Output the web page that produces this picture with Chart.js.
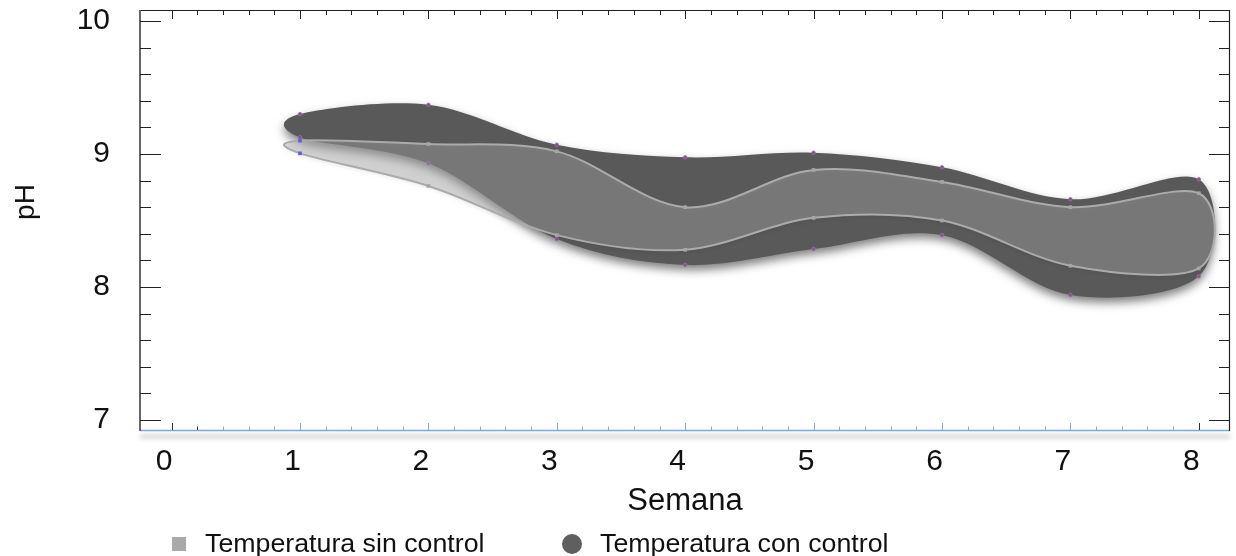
<!DOCTYPE html>
<html>
<head>
<meta charset="utf-8">
<title>pH por semana</title>
<script src="https://cdn.jsdelivr.net/npm/chart.js@4/dist/chart.umd.min.js"></script>
<style>
  html, body { margin: 0; padding: 0; background: #fff; }
  #wrap { position: relative; width: 1236px; height: 556px; font-family: "Liberation Sans", Arial, sans-serif; color: #111; }
  #wrap canvas { position: absolute; left: 0; top: 0; }
  #ytitle { position: absolute; width: 80px; height: 40px; left: -14.7px; top: 181.5px; line-height: 40px;
            font-size: 28px; text-align: center; transform: rotate(-90deg); white-space: nowrap; }
  .lg-mark { position: absolute; }
  .lg-text { position: absolute; font-size: 25px; line-height: 25px; white-space: nowrap;
             transform: scaleX(1.07); transform-origin: left center; }
</style>
</head>
<body>
<div id="wrap">
  <canvas id="chart" width="1236" height="556"></canvas>
  <div id="ytitle">pH</div>
  <div id="legend"></div>
</div>
<script>
// Semanas de muestreo
const semanas = [1, 2, 3, 4, 5, 6, 7, 8];

// Temperatura sin control: límites superior e inferior del pH
const sinControlMax = [9.10, 9.075, 9.02, 8.60, 8.88, 8.79, 8.60, 8.705];
const sinControlMin = [9.005, 8.76, 8.39, 8.28, 8.52, 8.50, 8.16, 8.14];

// Temperatura con control: límites superior e inferior del pH
const conControlMax = [9.30, 9.37, 9.07, 8.975, 9.01, 8.90, 8.66, 8.81];
const conControlMin = [9.125, 8.93, 8.36, 8.165, 8.285, 8.39, 7.94, 8.08];

const xTicks = [0, 1, 2, 3, 4, 5, 6, 7, 8];
const yTicks = [7, 8, 9, 10];
const seriesLabels = ['Temperatura sin control', 'Temperatura con control'];
const xTitle = 'Semana';

// Contorno cerrado de una banda: borde superior de izquierda a derecha,
// luego borde inferior de derecha a izquierda.
function outline(upper, lower) {
  const top = semanas.map((x, i) => ({ x, y: upper[i] }));
  const bottom = semanas.map((x, i) => ({ x, y: lower[i] })).reverse();
  return top.concat(bottom);
}

function setShadow(ctx, color, blur, dy) {
  ctx.shadowColor = color;
  ctx.shadowBlur = blur;
  ctx.shadowOffsetX = 0;
  ctx.shadowOffsetY = dy;
}
function clearShadow(ctx) { setShadow(ctx, 'rgba(0,0,0,0)', 0, 0); }

// Cierra cada línea sobre sí misma y la suaviza con una spline Catmull-Rom uniforme.
const closedBand = {
  id: 'closedBand',
  afterDatasetUpdate(chart, args) {
    const line = args.meta.dataset;
    if (!line) return;
    line._loop = true;
    line._fullLoop = true;
    line._segments = undefined;
    line._path = undefined;
    line._pointsUpdated = false;
  },
  beforeDatasetsDraw(chart) {
    chart.getSortedVisibleDatasetMetas().forEach(meta => {
      const line = meta.dataset;
      line.updateControlPoints(chart.chartArea, 'x');
      const pts = line.points, n = pts.length;
      for (let i = 0; i < n; i++) {
        const p = pts[i], a = pts[(i - 1 + n) % n], b = pts[(i + 1) % n];
        const dx = (b.x - a.x) / 6, dy = (b.y - a.y) / 6;
        p.cp1x = p.x - dx; p.cp1y = p.y - dy;
        p.cp2x = p.x + dx; p.cp2y = p.y + dy;
      }
      line._path = undefined;
    });
    // sombra de la banda oscura (se dibuja primero)
    setShadow(chart.ctx, 'rgba(0,0,0,0.5)', 10, 5);
  },
  beforeDatasetDraw(chart) {
    // el relleno ya está pintado: bordes y puntos sin sombra
    clearShadow(chart.ctx);
  },
  afterDatasetDraw(chart, args) {
    if (args.index === 1) setShadow(chart.ctx, 'rgba(0,0,0,0.22)', 5, 2);
  },
  afterDatasetsDraw(chart) { clearShadow(chart.ctx); }
};

// Marco del gráfico con marcas interiores, como en un gráfico científico.
const frame = {
  id: 'frame',
  afterDraw(chart) {
    const { ctx, chartArea: a, scales: { x, y } } = chart;
    const seg = (x1, y1, x2, y2) => { ctx.beginPath(); ctx.moveTo(x1, y1); ctx.lineTo(x2, y2); ctx.stroke(); };
    ctx.save();

    // eje inferior azul con sombra difusa
    ctx.save();
    setShadow(ctx, 'rgba(0,0,0,0.45)', 5, 6);
    ctx.strokeStyle = '#7ea8da';
    ctx.lineWidth = 1.3;
    seg(a.left, a.bottom - 0.5, a.right, a.bottom - 0.5);
    ctx.restore();

    // borde superior y derecho
    ctx.strokeStyle = '#222';
    ctx.lineWidth = 1.2;
    seg(a.left, a.top + 0.5, a.right, a.top + 0.5);
    seg(a.right - 0.5, a.top, a.right - 0.5, a.bottom);
    // borde izquierdo
    ctx.strokeStyle = '#666';
    ctx.lineWidth = 2;
    seg(a.left, a.top, a.left, a.bottom);

    const xFirst = xTicks[0], xLast = xTicks[xTicks.length - 1];
    const yFirst = yTicks[0], yLast = yTicks[yTicks.length - 1];

    // marcas del eje x (arriba y abajo), cada 0.2
    for (let k = 0; k <= (xLast - xFirst) * 5; k++) {
      const v = xFirst + k / 5;
      const major = k % 5 === 0;
      const px = Math.round(x.getPixelForValue(v)) + 0.5;
      ctx.lineWidth = 1;
      ctx.strokeStyle = '#222';
      seg(px, a.top, px, a.top + (major ? 9 : 5));
      ctx.strokeStyle = (v <= xFirst + 0.21 || v >= xLast - 0.01) ? '#333' : '#7ea8da';
      seg(px, a.bottom - 1, px, a.bottom - 1 - (major ? 7 : 3.5));
    }
    // marcas del eje y (izquierda y derecha), cada 0.2
    ctx.strokeStyle = '#222';
    ctx.lineWidth = 1;
    for (let k = 0; k <= (yLast - yFirst) * 5; k++) {
      const v = yFirst + k / 5;
      const major = k % 5 === 0;
      const py = Math.round(y.getPixelForValue(v)) + 0.5;
      const len = major ? 21 : 11;
      seg(a.left, py, a.left + len, py);
      seg(a.right, py, a.right - len, py);
    }
    ctx.restore();
  }
};

const tickFont = { family: '"Liberation Sans", Arial, sans-serif', size: 30 };
const noScalePadding = s => { s.paddingTop = 0; s.paddingBottom = 0; s.paddingLeft = 0; s.paddingRight = 0; };

new Chart(document.getElementById('chart'), {
  type: 'line',
  data: {
    datasets: [
      {
        label: seriesLabels[0],
        data: outline(sinControlMax, sinControlMin),
        fill: 'shape',
        backgroundColor: 'rgba(171,171,171,0.42)',
        borderColor: '#ababab',
        borderWidth: 2,
        tension: 0.4,
        pointStyle: 'rect',
        pointRadius: 2.6,
        pointBorderWidth: 0,
        pointBackgroundColor: c => (c.raw && c.raw.x === semanas[0]) ? '#5a62e0' : '#a6a6a6'
      },
      {
        label: seriesLabels[1],
        data: outline(conControlMax, conControlMin),
        fill: 'shape',
        backgroundColor: '#595959',
        borderColor: '#595959',
        borderWidth: 0,
        tension: 0.4,
        pointStyle: 'circle',
        pointRadius: 1.8,
        pointBackgroundColor: '#c23a5c',
        pointBorderColor: '#6f80d8',
        pointBorderWidth: 0.8
      }
    ]
  },
  options: {
    responsive: false,
    animation: false,
    events: [],
    layout: { padding: { left: 0, right: 6, top: 10, bottom: 36 } },
    plugins: {
      legend: { display: false },
      tooltip: { enabled: false },
      filler: { propagate: false }
    },
    scales: {
      x: {
        type: 'linear',
        min: -0.246,
        max: 8.243,
        afterBuildTicks: s => { s.ticks = xTicks.map(v => ({ value: v })); },
        afterFit: s => { s.height = 89; noScalePadding(s); },
        grid: { display: false, drawTicks: false },
        border: { display: false },
        ticks: { font: tickFont, color: '#111', padding: 13, labelOffset: -7.5, maxRotation: 0 },
        title: {
          display: true, text: xTitle, color: '#111',
          font: { family: '"Liberation Sans", Arial, sans-serif', size: 31 },
          padding: { top: 0, bottom: 0 }
        }
      },
      y: {
        type: 'linear',
        min: 6.917,
        max: 10.083,
        afterBuildTicks: s => { s.ticks = yTicks.map(v => ({ value: v })); },
        afterFit: s => { s.width = 140; noScalePadding(s); },
        grid: { display: false, drawTicks: false },
        border: { display: false },
        ticks: { font: tickFont, color: '#111', padding: 30 }
      }
    }
  },
  plugins: [closedBand, frame]
});

// Leyenda
const legendSpec = [
  { text: seriesLabels[0], mark: { left: 172, top: 537, w: 14, h: 14, bg: '#a9a9a9', r: 0 }, textLeft: 205 },
  { text: seriesLabels[1], mark: { left: 562, top: 534, w: 20, h: 20, bg: '#5f5f5f', r: 10 }, textLeft: 600 }
];
const legend = document.getElementById('legend');
legendSpec.forEach(it => {
  const m = document.createElement('div');
  m.className = 'lg-mark';
  Object.assign(m.style, {
    left: it.mark.left + 'px', top: it.mark.top + 'px', width: it.mark.w + 'px', height: it.mark.h + 'px',
    background: it.mark.bg, borderRadius: it.mark.r + 'px'
  });
  const t = document.createElement('div');
  t.className = 'lg-text';
  t.style.left = it.textLeft + 'px';
  t.style.top = '530.5px';
  t.textContent = it.text;
  legend.appendChild(m);
  legend.appendChild(t);
});
</script>
</body>
</html>
